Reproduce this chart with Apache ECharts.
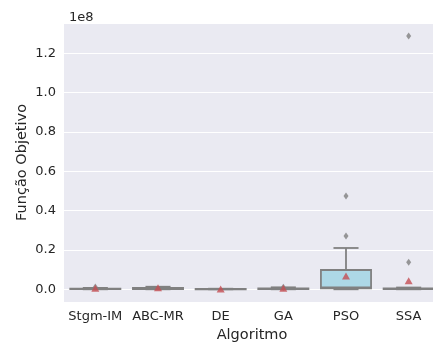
<!DOCTYPE html>
<html>
<head>
<meta charset="utf-8">
<script src="https://cdn.jsdelivr.net/npm/echarts@6/dist/echarts.min.js"></script>
<style>html,body{margin:0;padding:0;background:#fff}#c{width:433px;height:345px}</style>
</head>
<body>
<div id="c"></div>
<script>
const categories = ['Stgm-IM', 'ABC-MR', 'DE', 'GA', 'PSO', 'SSA'];
// five-number summaries [min whisker, Q1, median, Q3, max whisker]
const boxStats = [
  [0, 50000, 150000, 300000, 700000],
  [0, 150000, 400000, 700000, 1300000],
  [0, 20000, 50000, 150000, 300000],
  [0, 100000, 250000, 500000, 1000000],
  [0, 500000, 1000000, 9800000, 21000000],
  [0, 50000, 150000, 400000, 900000]
];
const means = [500000, 800000, 150000, 500000, 6800000, 4400000];
const outliers = [
  [0, 1200000],
  [3, 1000000],
  [4, 27100000],
  [4, 47400000],
  [5, 13700000],
  [5, 128800000]
];
const yTicks = [0, 20000000, 40000000, 60000000, 80000000, 100000000, 120000000];

const lineColor = '#808080';
const txt = '#262626';
const chart = echarts.init(document.getElementById('c'));

chart.setOption({
  backgroundColor: '#ffffff',
  animation: false,
  title: {
    text: '1e8', left: 64, top: 6,
    textStyle: { fontFamily: 'DejaVu Sans', fontSize: 13, fontWeight: 'normal', color: txt }
  },
  grid: { left: 64, top: 23, right: -7, bottom: 43, backgroundColor: '#eaeaf2', show: true, borderWidth: 0,
          containLabel: false, outerBoundsMode: 'none' },
  xAxis: {
    type: 'category', data: categories,
    name: 'Algoritmo', nameLocation: 'middle', nameGap: 25,
    nameTextStyle: { fontFamily: 'DejaVu Sans', fontSize: 14.5, color: txt },
    axisLine: { show: false }, axisTick: { show: false },
    axisLabel: { fontFamily: 'DejaVu Sans', fontSize: 13, color: txt, margin: 8, interval: 0, hideOverlap: false },
    splitLine: { show: false }
  },
  yAxis: {
    type: 'value', min: -6460000, max: 135400000,
    splitNumber: 7, minInterval: 20000000, maxInterval: 20000000,
    name: 'Função Objetivo', nameLocation: 'middle', nameGap: 34, nameMoveOverlap: false,
    nameTextStyle: { fontFamily: 'DejaVu Sans', fontSize: 14.5, color: txt },
    axisLine: { show: false }, axisTick: { show: false },
    axisLabel: {
      fontFamily: 'DejaVu Sans', fontSize: 13, color: txt, margin: 8,
      showMinLabel: false, showMaxLabel: false,
      formatter: v => yTicks.includes(Math.round(v)) ? (v / 1e8).toFixed(1) : ''
    },
    splitLine: { show: true, lineStyle: { color: '#ffffff', width: 1.2 } }
  },
  series: [
    {
      type: 'custom',
      data: boxStats.map((s, i) => [i].concat(s)),
      encode: { x: 0, y: [1, 2, 3, 4, 5] },
      z: 3,
      renderItem: function (params, api) {
        const i = api.value(0);
        const band = api.size([1, 0])[0];
        const bw = band * 0.8;
        const cx = api.coord([i, 0])[0];
        const yMin = api.coord([i, api.value(1)])[1];
        const yQ1 = api.coord([i, api.value(2)])[1];
        const yMed = api.coord([i, api.value(3)])[1];
        const yQ3 = api.coord([i, api.value(4)])[1];
        const yMax = api.coord([i, api.value(5)])[1];
        const st = { stroke: lineColor, lineWidth: 1.8 };
        return {
          type: 'group',
          children: [
            { type: 'line', shape: { x1: cx, y1: yQ1, x2: cx, y2: yMin }, style: st },
            { type: 'line', shape: { x1: cx, y1: yQ3, x2: cx, y2: yMax }, style: st },
            { type: 'line', shape: { x1: cx - bw / 4, y1: yMin, x2: cx + bw / 4, y2: yMin }, style: st },
            { type: 'line', shape: { x1: cx - bw / 4, y1: yMax, x2: cx + bw / 4, y2: yMax }, style: st },
            { type: 'rect', shape: { x: cx - bw / 2, y: yQ3, width: bw, height: yQ1 - yQ3 },
              style: { fill: '#add8e6', stroke: lineColor, lineWidth: 1.8 } },
            { type: 'line', shape: { x1: cx - bw / 2, y1: yMed, x2: cx + bw / 2, y2: yMed }, style: st }
          ]
        };
      }
    },
    {
      type: 'scatter', data: outliers, symbol: 'diamond', symbolSize: [5, 7], z: 4,
      itemStyle: { color: lineColor }
    },
    {
      type: 'scatter', data: means.map((m, i) => [i, m]), symbol: 'triangle', symbolSize: [8, 7], z: 5,
      itemStyle: { color: '#c44e52' }
    }
  ]
});
</script>
</body>
</html>
